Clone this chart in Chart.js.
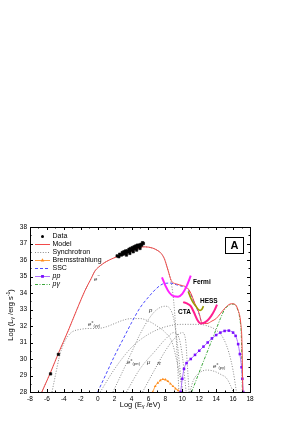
<!DOCTYPE html>
<html><head><meta charset="utf-8">
<script src="https://cdn.jsdelivr.net/npm/chart.js@4/dist/chart.umd.min.js"></script>
<style>html,body{margin:0;padding:0;background:#fff;}canvas{display:block;}</style>
</head><body>
<canvas id="c" width="293" height="422"></canvas>
<script>
// ---- axis ranges / ticks ----
const xRange = [-8, 18];
const yRange = [28, 38];
const xTickStep = 2;
const yTickStep = 1;

// ---- observed data ----
const dataX = [-5.57,-4.64,2.3,2.5,2.6,2.8,2.9,3.0,3.1,3.2,3.3,3.4,3.5,3.6,3.7,3.8,3.9,4.0,4.1,4.2,4.3,4.4,4.5,4.6,4.7,4.8,4.9,5.0,5.1,5.2,5.3,5.4,3.4,3.8,4.2,4.6,5.0];
const dataY = [29.1,30.28,36.25,36.2,36.35,36.3,36.45,36.35,36.5,36.4,36.55,36.45,36.55,36.5,36.65,36.55,36.7,36.6,36.75,36.65,36.8,36.7,36.85,36.75,36.9,36.8,36.9,36.85,36.95,36.9,37.05,37.0,36.3,36.4,36.5,36.6,36.7];

// ---- model ----
const modelX = [-6.6,-5.6,-4.6,-3.5,-2.5,-1.5,-0.8,-0.3,0.3,1.0,1.8,2.6,3.5,4.5,5.5,6.5,7.0,7.5,7.9,8.3,8.7,9.3,10.0,10.5,10.9,11.5,12.0,12.3,12.6,12.9,13.5,14.0,14.5,15.2,15.8,16.2,16.6,16.9,17.05,17.15];
const modelY = [28.0,29.15,30.4,31.7,32.95,34.15,34.85,35.35,35.65,35.9,36.1,36.27,36.42,36.65,36.8,36.72,36.6,36.4,36.05,35.4,34.75,34.55,34.45,34.35,34.1,33.35,32.75,32.2,32.15,32.15,32.3,32.45,32.75,33.17,33.35,33.32,32.95,32.2,31.0,28.0];

// ---- synchrotron components ----
const synEX = [-6.6,-5.6,-4.6,-3.5,-2.5,-1.5,-0.8,-0.3,0.3,1.0,1.8,2.6,3.5,4.5,5.5,6.5,7.0,7.5,7.9,8.3,8.7,9.0,9.2,9.4,9.6];
const synEY = [28.0,29.15,30.4,31.7,32.95,34.15,34.85,35.35,35.65,35.9,36.1,36.27,36.42,36.65,36.8,36.72,36.6,36.4,36.05,35.4,34.6,33.4,32.0,30.1,28.0];
const synGGX = [-5.4,-5.0,-4.5,-4.0,-3.5,-3.0,-2.0,-1.0,0,1,2,3,4,5,6,7,8,8.8,9.3,9.7,10.1];
const synGGY = [28,29.0,30.2,30.95,31.4,31.65,31.8,31.85,31.85,31.95,32.15,32.35,32.45,32.45,32.3,32.0,31.6,31.0,30.0,29.0,28];
const synPX = [1.8,3,4,5,6,7,8,8.6,9.0,9.4,9.7,10.0];
const synPY = [28,29.3,30.4,31.5,32.4,33.0,33.2,33.0,32.4,31.0,29.5,28];
const synPPiX = [0.3,2,4,6,8,10,12,13,14,14.8,15.5,16,16.4];
const synPPiY = [28,29.4,30.7,31.5,31.95,32.1,32.1,32.0,31.75,31.3,30.4,29.3,28];
const synMuX = [3.4,5,6.9,8,9,9.6,10.0,10.3,10.45];
const synMuY = [28,29.4,30.55,31.2,31.6,31.3,30.2,28.8,28];
const synPiX = [5.3,7,8,9,10,10.4,10.6,10.8];
const synPiY = [28,29.6,30.5,31.2,31.6,31.1,29.6,28];
const synPGX = [10.9,11.3,12,12.9,13.8,14.6,15.2,15.7,16.0];
const synPGY = [28,28.7,29.15,29.33,29.25,29.05,28.85,28.4,28];

// ---- other components ----
const bremX = [6.5,6.8,7.1,7.4,7.7,8.0,8.3,8.6,8.9,9.2,9.5,9.8];
const bremY = [28.0,28.35,28.55,28.7,28.77,28.75,28.65,28.5,28.35,28.2,28.1,28.0];
const sscX = [0,1,2,3,4,5,6,7,7.7,8.5,9.3,10.0,10.5,10.9,11.5,12.0,12.3];
const sscY = [28,29.1,30.2,31.2,32.2,33.1,33.75,34.3,34.55,34.6,34.5,34.4,34.3,34.05,33.3,32.7,32.15];
const ppX = [9.8,10.0,10.2,10.5,11.0,11.5,12.0,12.5,13.0,13.5,14.0,14.5,15.0,15.5,16.0,16.3,16.6,16.8,17.0,17.1,17.2];
const ppY = [28.0,28.8,29.4,29.75,30.0,30.25,30.5,30.75,31.0,31.25,31.45,31.6,31.7,31.72,31.6,31.4,30.9,30.3,29.5,28.8,28.0];
const pgX = [11.1,12,13,14,14.5,15,15.5,16,16.5,16.8,17.0,17.1];
const pgY = [28,29.2,30.5,31.8,32.45,33.0,33.25,33.33,33.05,32.4,31.0,28];

// ---- instrument sensitivities ----
const fermiX = [7.6,8.0,8.5,9.0,9.5,10.0,10.5,11.0];
const fermiY = [34.95,34.45,34.0,33.8,33.78,33.95,34.4,35.05];
const hessX = [10.7,11.0,11.3,11.6,11.9,12.1,12.3,12.5];
const hessY = [34.1,33.7,33.4,33.2,33.0,32.95,33.0,33.2];
const ctaX = [10.1,10.6,11.0,11.4,11.8,12.2,12.6,13.0,13.4,13.8,14.1];
const ctaY = [33.45,33.35,33.2,32.8,32.35,32.15,32.2,32.35,32.6,32.95,33.3];

const legendLabels = ['Data','Model','Synchrotron','Bremsstrahlung','SSC','pp','pγ'];

const pts = (xs, ys) => xs.map((x, i) => ({x, y: ys[i]}));
const FONT = "'Liberation Sans', Arial, sans-serif";

const GRAY = '#8a8a8a';
const synStyle = {showLine:true, borderColor:GRAY, borderWidth:1, borderDash:[1,1.6], pointRadius:0, cubicInterpolationMode:'monotone'};
const lineBase = {showLine:true, pointRadius:0, cubicInterpolationMode:'monotone'};

const datasets = [
  {label:'Data', data:pts(dataX,dataY), showLine:false, pointRadius:1.7, pointStyle:'rect', backgroundColor:'#000', borderColor:'#000', borderWidth:0.6},
  {label:'CTA', data:pts(ctaX,ctaY), ...lineBase, borderColor:'#ff1f8f', borderWidth:2},
  {label:'HESS', data:pts(hessX,hessY), ...lineBase, borderColor:'#9a9a00', borderWidth:1.6},
  {label:'Fermi', data:pts(fermiX,fermiY), ...lineBase, borderColor:'#ff22ff', borderWidth:2},
  {label:'Model', data:pts(modelX,modelY), ...lineBase, borderColor:'#f24a4a', borderWidth:1},
  {label:'pp', data:pts(ppX,ppY), ...lineBase, borderColor:'#b070ff', borderWidth:1, pointRadius:1.8, pointStyle:'rect', pointBackgroundColor:'#7a10ff', pointBorderColor:'#7a10ff', pointBorderWidth:0},
  {label:'pγ', data:pts(pgX,pgY), ...lineBase, borderColor:'#3aa63a', borderWidth:1, borderDash:[3,1.5,1,1.5]},
  {label:'SSC', data:pts(sscX,sscY), ...lineBase, borderColor:'#4a4aff', borderWidth:1, borderDash:[3,2]},
  {label:'Bremsstrahlung', data:pts(bremX,bremY), ...lineBase, borderColor:'#ffa040', borderWidth:1, pointRadius:1.6, pointStyle:'triangle', pointBackgroundColor:'#ff8c1a', pointBorderColor:'#ff8c1a', pointBorderWidth:0},
  {label:'Synchrotron', data:pts(synEX,synEY), ...synStyle},
  {label:'syn e(γγ)', data:pts(synGGX,synGGY), ...synStyle},
  {label:'syn p', data:pts(synPX,synPY), ...synStyle},
  {label:'syn e(pπ)', data:pts(synPPiX,synPPiY), ...synStyle},
  {label:'syn μ', data:pts(synMuX,synMuY), ...synStyle},
  {label:'syn π', data:pts(synPiX,synPiY), ...synStyle},
  {label:'syn e(pγ)', data:pts(synPGX,synPGY), ...synStyle}
];

function richText(ctx, parts, x, y) {
  let cx = x;
  for (const [t, size, dy, style] of parts) {
    ctx.font = (style || '') + ' ' + size + 'px ' + FONT;
    ctx.fillText(t, cx, y + dy);
    cx += ctx.measureText(t).width;
  }
  return cx - x;
}
function richWidth(ctx, parts) {
  let w = 0;
  for (const [t, size, dy, style] of parts) { ctx.font = (style || '') + ' ' + size + 'px ' + FONT; w += ctx.measureText(t).width; }
  return w;
}

const decor = {
  id: 'decor',
  afterDatasetsDraw(chart) {
    const {ctx, chartArea: a, scales: {x, y}} = chart;
    const L = Math.round(a.left), R = Math.round(a.right), T = Math.round(a.top), B = Math.round(a.bottom);
    ctx.save();
    ctx.strokeStyle = '#000'; ctx.lineWidth = 1; ctx.setLineDash([]);
    ctx.strokeRect(L + 0.5, T + 0.5, R - L, B - T);
    ctx.beginPath();
    for (let v = xRange[0]; v <= xRange[1]; v += 1) {
      const px = Math.round(x.getPixelForValue(v)) + 0.5;
      const len = (v % xTickStep === 0) ? 3 : 1.5;
      ctx.moveTo(px, B); ctx.lineTo(px, B - len);
      ctx.moveTo(px, T); ctx.lineTo(px, T + len);
    }
    for (let v = yRange[0]; v <= yRange[1]; v += 0.5) {
      const py = Math.round(y.getPixelForValue(v)) + 0.5;
      const len = Number.isInteger(v) ? 3 : 1.5;
      ctx.moveTo(L, py); ctx.lineTo(L + len, py);
      ctx.moveTo(R, py); ctx.lineTo(R - len, py);
    }
    ctx.stroke();

    // axis titles
    ctx.fillStyle = '#000';
    ctx.textBaseline = 'middle'; ctx.textAlign = 'left';
    const xt = [['Log (E', 7.5, 0], ['γ', 5, 2], [' /eV)', 7.5, 0]];
    const xw = richWidth(ctx, xt);
    richText(ctx, xt, (L + R) / 2 - xw / 2, 405);
    ctx.save();
    ctx.translate(11, 315); ctx.rotate(-Math.PI / 2);
    const yt = [['Log (L', 7.5, 0], ['γ', 5, 2], [' /erg s', 7.5, 0], ['-1', 5, -2.5], [')', 7.5, 0]];
    const yw = richWidth(ctx, yt);
    richText(ctx, yt, -yw / 2, 0);
    ctx.restore();

    // legend
    const items = legendLabels.map(l => chart.data.datasets.find(d => d.label === l));
    const lx0 = 35, lx1 = 50, tx = 52.5;
    items.forEach((d, i) => {
      const ly = 236 + i * 8;
      ctx.save();
      if (d.showLine) {
        ctx.strokeStyle = d.borderColor; ctx.lineWidth = d.borderWidth;
        ctx.setLineDash(d.borderDash || []);
        ctx.beginPath(); ctx.moveTo(lx0, ly + 0.5); ctx.lineTo(lx1, ly + 0.5); ctx.stroke();
      }
      ctx.setLineDash([]);
      const mx = (lx0 + lx1) / 2;
      const ps = d.showLine ? d.pointStyle : 'circle';
      if (!d.showLine || d.pointRadius > 0) {
        ctx.fillStyle = d.pointBackgroundColor || d.backgroundColor || '#000';
        ctx.beginPath();
        if (ps === 'triangle') { ctx.moveTo(mx, ly - 1.8); ctx.lineTo(mx + 1.8, ly + 1.4); ctx.lineTo(mx - 1.8, ly + 1.4); ctx.closePath(); }
        else if (ps === 'rect') { ctx.rect(mx - 1.4, ly - 1, 2.8, 2.8); }
        else { ctx.arc(mx, ly + 0.5, 1.5, 0, Math.PI * 2); }
        ctx.fill();
      }
      ctx.restore();
      ctx.fillStyle = '#000'; ctx.textBaseline = 'middle'; ctx.textAlign = 'left';
      const italic = (d.label === 'pp' || d.label === 'pγ') ? 'italic' : '';
      ctx.font = italic + ' 7px ' + FONT;
      ctx.fillText(d.label, tx, ly + 0.5);
    });

    // panel letter box
    ctx.strokeStyle = '#000'; ctx.lineWidth = 1;
    ctx.strokeRect(225.5, 237.5, 18, 16);
    ctx.font = 'bold 11px ' + FONT; ctx.textAlign = 'center'; ctx.textBaseline = 'middle';
    ctx.fillText('A', 234.5, 246);

    // instrument labels
    ctx.textAlign = 'left';
    ctx.font = 'bold 6.5px ' + FONT;
    ctx.fillText('Fermi', 193, 282);
    ctx.fillText('HESS', 200, 301);
    ctx.fillText('CTA', 178, 312);

    // component labels
    ctx.fillStyle = '#333';
    ctx.font = 'italic 6px ' + FONT;
    ctx.fillText('e', 94, 279);
    ctx.font = '4.5px ' + FONT; ctx.fillText('−', 97.5, 276);
    ctx.font = 'italic 6px ' + FONT; ctx.fillText('p', 149, 310);
    richText(ctx, [['e', 6, 0, 'italic'], ['±', 4, -2.5], ['(γγ)', 4, 2]], 88, 324);
    richText(ctx, [['e', 6, 0, 'italic'], ['±', 4, -2.5], ['(pπ)', 4, 2]], 127, 362);
    richText(ctx, [['e', 6, 0, 'italic'], ['±', 4, -2.5], ['(pγ)', 4, 2]], 213, 366);
    ctx.font = 'italic 6px ' + FONT;
    ctx.fillText('μ', 147, 362);
    ctx.fillText('π', 157, 363);
    ctx.restore();
  }
};

new Chart(document.getElementById('c'), {
  type: 'scatter',
  data: {datasets},
  options: {
    responsive: false, animation: false, devicePixelRatio: 1,
    layout: {padding: {top: 227, right: 43, left: 0, bottom: 0}},
    plugins: {legend: {display: false}, tooltip: {enabled: false}},
    elements: {point: {radius: 0}},
    scales: {
      x: {
        type: 'linear', min: xRange[0], max: xRange[1],
        ticks: {stepSize: xTickStep, color: '#000', font: {size: 6.5, family: FONT}, padding: 3, maxRotation: 0, autoSkip: false},
        grid: {drawOnChartArea: false, drawTicks: false},
        border: {display: false},
        afterFit(s) { s.height = 30; }
      },
      y: {
        type: 'linear', min: yRange[0], max: yRange[1],
        ticks: {stepSize: yTickStep, color: '#000', font: {size: 6.5, family: FONT}, padding: 3, autoSkip: false},
        grid: {drawOnChartArea: false, drawTicks: false},
        border: {display: false},
        afterFit(s) { s.width = 30; }
      }
    }
  },
  plugins: [decor]
});
</script>
</body></html>
